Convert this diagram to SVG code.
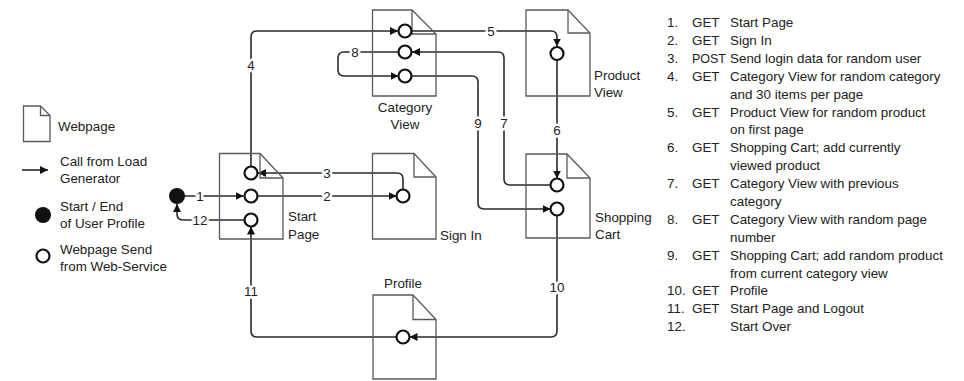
<svg xmlns="http://www.w3.org/2000/svg" width="964" height="381" viewBox="0 0 964 381">
<style>
  text { font-family: "Liberation Sans", Arial, sans-serif; font-size: 13.4px; fill: #222; }
  .page { fill: none; stroke: #5a5a5a; stroke-width: 1.3; }
  .fold { fill: none; stroke: #5a5a5a; stroke-width: 1.3; }
  .ws { fill: #fff; stroke: #111; stroke-width: 2.2; }
  .dot { fill: #111; }
  .conn { fill: none; stroke: #2a2a2a; stroke-width: 1.6; }
  .arr { marker-end: url(#ah); }
  .lbl { text-anchor: middle; stroke: #fff; stroke-width: 5; paint-order: stroke; stroke-linejoin: round; }
  .mid { text-anchor: middle; }
</style>
<defs>
  <marker id="ah" markerUnits="userSpaceOnUse" markerWidth="9" markerHeight="9" refX="8" refY="4" orient="auto">
    <path d="M0,0 L8,4 L0,8 z" fill="#111"/>
  </marker>
</defs>
<rect width="964" height="381" fill="#fff"/>

<g id="legend">
  <path class="page" d="M23.5,106 H40.5 L50,115.5 V141.5 H23.5 Z"/>
  <path class="fold" d="M40.5,106 V115.5 H50"/>
  <text x="58" y="131">Webpage</text>
  <path class="conn arr" d="M22,170 H48"/>
  <text x="60" y="166">Call from Load</text>
  <text x="60" y="183">Generator</text>
  <circle class="dot" cx="43" cy="215" r="8"/>
  <text x="60" y="211">Start / End</text>
  <text x="60" y="228">of User Profile</text>
  <circle class="ws" cx="43" cy="256" r="6.5"/>
  <text x="60" y="254">Webpage Send</text>
  <text x="60" y="271">from Web-Service</text>
</g>

<g id="connectors">
  <path class="conn arr" d="M184,196 H243.5"/>
  <path class="conn arr" d="M257.5,196 H396.5"/>
  <path class="conn arr" d="M403,189.5 V179 Q403,173 397,173 H258"/>
  <path class="conn arr" d="M251,166.5 V37 Q251,31 257,31 H398"/>
  <path class="conn arr" d="M411.5,31 H551 Q557,31 557,37 V46.5"/>
  <path class="conn arr" d="M557,60 V178.5"/>
  <path class="conn arr" d="M551,185 H510 Q504,185 504,179 V58 Q504,52 498,52 H412"/>
  <path class="conn arr" d="M398.5,52 H344 Q338,52 338,58 V70 Q338,76 344,76 H398.5"/>
  <path class="conn arr" d="M411.5,76 H472 Q478,76 478,82 V203 Q478,209 484,209 H550.5"/>
  <path class="conn arr" d="M557,216 V331 Q557,337 551,337 H409.5"/>
  <path class="conn arr" d="M396,337 H257 Q251,337 251,331 V226.5"/>
  <path class="conn arr" d="M244.5,220 H183 Q177,220 177,214 V204"/>
  <text class="lbl" x="200" y="200.5">1</text>
  <text class="lbl" x="327" y="200.5">2</text>
  <text class="lbl" x="327" y="177.5">3</text>
  <text class="lbl" x="251" y="69.5">4</text>
  <text class="lbl" x="491" y="35.5">5</text>
  <text class="lbl" x="557" y="135">6</text>
  <text class="lbl" x="504" y="127.5">7</text>
  <text class="lbl" x="355" y="56.5">8</text>
  <text class="lbl" x="478" y="127.5">9</text>
  <text class="lbl" x="557" y="291.5">10</text>
  <text class="lbl" x="251" y="296">11</text>
  <text class="lbl" x="200" y="224.5">12</text>
</g>

<g id="start-dot">
  <circle class="dot" cx="177" cy="196" r="8"/>
</g>

<g id="start-page">
  <path class="page" d="M219.5,153.5 H260 L283,178 V239 H219.5 Z"/>
  <path class="fold" d="M260,153.5 V178 H283"/>
  <circle class="ws" cx="251" cy="173" r="6.5"/>
  <circle class="ws" cx="251" cy="196" r="6.5"/>
  <circle class="ws" cx="251" cy="220" r="6.5"/>
  <text x="288" y="221">Start</text>
  <text x="288" y="239">Page</text>
</g>

<g id="sign-in">
  <path class="page" d="M372.5,153.5 H414 L436,177 V239 H372.5 Z"/>
  <path class="fold" d="M414,153.5 V177 H436"/>
  <circle class="ws" cx="403" cy="196" r="6.5"/>
  <text x="440" y="240">Sign In</text>
</g>

<g id="category-view">
  <path class="page" d="M372.5,10 H412 L436,34 V96 H372.5 Z"/>
  <path class="fold" d="M412,10 V34 H436"/>
  <circle class="ws" cx="405" cy="31" r="6.5"/>
  <circle class="ws" cx="405" cy="52" r="6.5"/>
  <circle class="ws" cx="405" cy="76" r="6.5"/>
  <text class="mid" x="405" y="112">Category</text>
  <text class="mid" x="405" y="129">View</text>
</g>

<g id="product-view">
  <path class="page" d="M526,10 H568 L590,33 V96 H526 Z"/>
  <path class="fold" d="M568,10 V33 H590"/>
  <circle class="ws" cx="557" cy="53.5" r="6.5"/>
  <text x="594" y="80">Product</text>
  <text x="594" y="97">View</text>
</g>

<g id="shopping-cart">
  <path class="page" d="M526,154 H567 L590,178 V238 H526 Z"/>
  <path class="fold" d="M567,154 V178 H590"/>
  <circle class="ws" cx="557" cy="185" r="6.5"/>
  <circle class="ws" cx="557" cy="209" r="6.5"/>
  <text x="595" y="222">Shopping</text>
  <text x="595" y="239">Cart</text>
</g>

<g id="profile">
  <path class="page" d="M373,295 H413 L436,319.5 V379 H373 Z"/>
  <path class="fold" d="M413,295 V319.5 H436"/>
  <circle class="ws" cx="403" cy="337" r="6.5"/>
  <text class="mid" x="403" y="288">Profile</text>
</g>

<g id="list">
  <text x="667" y="27">1.</text><text x="692" y="27">GET</text><text x="730" y="27">Start Page</text>
  <text x="667" y="45">2.</text><text x="692" y="45">GET</text><text x="730" y="45">Sign In</text>
  <text x="667" y="63">3.</text><text x="692" y="63" textLength="34" lengthAdjust="spacingAndGlyphs">POST</text><text x="730" y="63">Send login data for random user</text>
  <text x="667" y="81">4.</text><text x="692" y="81">GET</text><text x="730" y="81">Category View for random category</text>
  <text x="730" y="99">and 30 items per page</text>
  <text x="667" y="117">5.</text><text x="692" y="117">GET</text><text x="730" y="117">Product View for random product</text>
  <text x="730" y="134">on first page</text>
  <text x="667" y="152">6.</text><text x="692" y="152">GET</text><text x="730" y="152">Shopping Cart; add currently</text>
  <text x="730" y="170">viewed product</text>
  <text x="667" y="188">7.</text><text x="692" y="188">GET</text><text x="730" y="188">Category View with previous</text>
  <text x="730" y="206">category</text>
  <text x="667" y="224">8.</text><text x="692" y="224">GET</text><text x="730" y="224">Category View with random page</text>
  <text x="730" y="242">number</text>
  <text x="667" y="260">9.</text><text x="692" y="260">GET</text><text x="730" y="260">Shopping Cart; add random product</text>
  <text x="730" y="278">from current category view</text>
  <text x="667" y="295">10.</text><text x="692" y="295">GET</text><text x="730" y="295">Profile</text>
  <text x="667" y="313">11.</text><text x="692" y="313">GET</text><text x="730" y="313">Start Page and Logout</text>
  <text x="667" y="331">12.</text><text x="730" y="331">Start Over</text>
</g>
</svg>
